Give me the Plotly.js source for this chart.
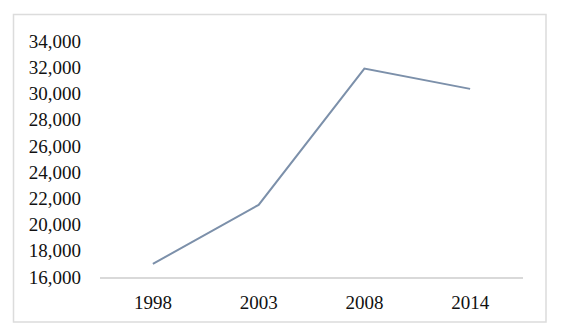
<!DOCTYPE html>
<html>
<head>
<meta charset="utf-8">
<script src="https://cdn.plot.ly/plotly-3.0.1.min.js"></script>
<style>
  html, body { margin: 0; padding: 0; background: #fff; }
  #chart { width: 561px; height: 335px; }
</style>
</head>
<body>
<div id="chart"></div>
<script>
const years = ["1998", "2003", "2008", "2014"];
const values = [17000, 21500, 31900, 30350];
const yTicks = [16000, 18000, 20000, 22000, 24000, 26000, 28000, 30000, 32000, 34000];

const W = 561, H = 335;
const margin = { l: 100, r: 38, t: 41, b: 58, pad: 0 };
const pw = W - margin.l - margin.r, ph = H - margin.t - margin.b;
function px(x) { return (x - margin.l) / pw; }
function py(y) { return (H - margin.b - y) / ph; }

const fontFam = "'Liberation Serif', 'Times New Roman', serif";

const trace = {
  x: years,
  y: values,
  type: "scatter",
  mode: "lines",
  line: { color: "#7c90aa", width: 2 },
  hoverinfo: "skip"
};

const layout = {
  width: W,
  height: H,
  margin: margin,
  paper_bgcolor: "#ffffff",
  plot_bgcolor: "#ffffff",
  showlegend: false,
  font: { family: fontFam, size: 19, color: "#111111" },
  xaxis: {
    type: "category",
    range: [-0.5, 3.5],
    showgrid: false,
    zeroline: false,
    showline: true,
    linecolor: "#d9d9d9",
    linewidth: 1.5,
    ticks: "",
    ticklabelstandoff: 8,
    tickfont: { family: fontFam, size: 19, color: "#111111" },
    fixedrange: true
  },
  yaxis: {
    range: [16000, 34000],
    tickvals: yTicks,
    ticktext: yTicks.map(v => v.toLocaleString("en-US")),
    showgrid: false,
    zeroline: false,
    showline: false,
    ticks: "",
    ticklabelstandoff: 18,
    tickfont: { family: fontFam, size: 19, color: "#111111" },
    fixedrange: true
  },
  shapes: [{
    type: "rect",
    xref: "paper", yref: "paper",
    x0: px(13.5), x1: px(546),
    y0: py(322), y1: py(14.5),
    line: { color: "#dcdcdc", width: 1.5 },
    fillcolor: "rgba(0,0,0,0)",
    layer: "below"
  }]
};

Plotly.newPlot("chart", [trace], layout, { staticPlot: true, displayModeBar: false });
</script>
</body>
</html>
